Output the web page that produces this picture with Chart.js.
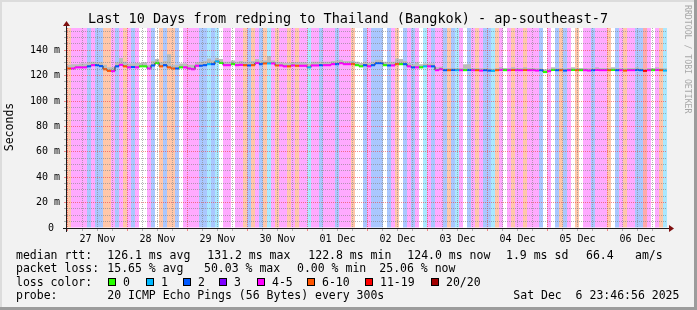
<!DOCTYPE html>
<html>
<head>
<meta charset="utf-8">
<script src="https://cdn.jsdelivr.net/npm/chart.js@4.4.1/dist/chart.umd.min.js"></script>
<style>
html, body { margin: 0; padding: 0; background: #f2f2f2; }
</style>
</head>
<body>
<canvas id="chart" width="697" height="310"></canvas>
<script>
"use strict";

// median rtt [ms], one value per 1.6 h (150 bins = last 10 days)
const medianRtt = [
    125.6, 125.6, 126.5, 126.5, 126.5, 127.3, 128.2, 128.2, 127.5, 125.0,
    123.8, 123.5, 127.3, 128.5, 127.3, 126.5, 126.8, 126.5, 127.3, 127.3,
    125.6, 128.0, 130.0, 127.3, 128.2, 126.5, 125.6, 125.6, 126.5, 126.5,
    125.6, 125.0, 127.8, 127.8, 128.2, 129.0, 129.0, 131.2, 130.0, 128.2,
    128.2, 129.0, 128.2, 128.5, 128.2, 128.0, 128.2, 130.0, 129.0, 129.6,
    129.6, 129.6, 128.0, 128.0, 127.3, 127.3, 128.0, 127.8, 127.8, 127.8,
    126.5, 128.0, 128.0, 128.2, 128.2, 128.2, 129.0, 129.0, 129.8, 129.0,
    129.0, 129.0, 128.2, 127.3, 128.2, 127.3, 128.2, 129.8, 129.8, 128.2,
    128.0, 128.0, 129.0, 129.0, 129.0, 127.3, 126.5, 126.5, 126.5, 127.3,
    127.3, 127.3, 124.3, 125.0, 124.3, 124.3, 124.5, 124.3, 124.3, 124.3,
    124.5, 124.3, 124.3, 124.0, 124.3, 124.0, 123.8, 124.3, 124.5, 124.3,
    124.3, 124.5, 124.3, 124.3, 124.5, 124.3, 124.3, 124.0, 124.3, 122.8,
    123.5, 124.5, 124.3, 124.3, 124.0, 124.3, 124.5, 124.3, 124.3, 124.3,
    124.0, 124.3, 124.5, 124.3, 124.3, 124.3, 124.5, 124.3, 124.3, 124.0,
    124.3, 124.3, 124.5, 124.3, 123.8, 124.3, 124.3, 124.5, 124.3, 124.0
];

// 煙(smoke)の上端 [ms]
const smokeTop = [
    128.5, 129.0, 129.0, 129.5, 129.5, 130.5, 131.0, 130.5, 130.5, 128.5,
    126.5, 126.5, 130.5, 133.8, 131.0, 129.5, 129.5, 130.0, 130.0, 130.5,
    128.5, 131.5, 133.0, 130.5, 131.5, 136.8, 128.5, 128.5, 129.5, 129.5,
    128.5, 128.5, 130.5, 131.0, 131.5, 133.5, 132.0, 134.0, 133.0, 131.0,
    131.0, 132.0, 131.0, 131.5, 131.0, 131.0, 131.5, 133.0, 132.0, 132.0,
    135.5, 132.0, 131.0, 130.5, 130.0, 130.0, 130.5, 130.5, 130.5, 130.5,
    129.5, 131.0, 131.0, 131.0, 131.0, 131.0, 131.5, 132.0, 132.5, 131.5,
    131.5, 131.5, 131.0, 130.0, 131.0, 130.0, 131.0, 132.5, 132.5, 131.0,
    130.5, 131.0, 133.5, 133.0, 131.5, 130.0, 129.0, 130.5, 129.0, 129.5,
    129.5, 129.5, 126.5, 127.0, 126.0, 126.0, 126.0, 126.0, 126.0, 129.0,
    129.0, 126.0, 126.0, 125.8, 126.0, 125.8, 125.5, 126.0, 126.5, 126.0,
    126.0, 126.5, 126.0, 126.0, 126.5, 126.0, 126.0, 125.8, 126.0, 125.0,
    125.5, 126.5, 126.0, 126.0, 125.8, 126.0, 126.5, 126.0, 126.0, 126.0,
    125.8, 126.0, 126.5, 126.0, 126.0, 126.0, 126.5, 126.0, 126.0, 125.8,
    126.0, 126.0, 126.5, 126.0, 125.5, 126.0, 126.0, 126.5, 126.0, 125.8
];

// loss class per bin: 0="0" 1="1" 2="2" 3="3" 4="4-5" 5="6-10" 6="11-19" 7="20/20"
const lossClass = [
    5, 4, 4, 4, 4, 2, 4, 2, 2, 5,
    5, 4, 2, 4, 5, 4, 2, 4, 0, 0,
    4, 2, 0, 5, 2, 5, 5, 2, 0, 4,
    4, 4, 4, 2, 2, 1, 2, 1, 0, 4,
    4, 0, 4, 4, 5, 2, 5, 4, 2, 5,
    1, 4, 5, 4, 4, 5, 4, 5, 4, 4,
    1, 4, 4, 2, 4, 4, 4, 2, 4, 4,
    4, 5, 0, 0, 2, 4, 2, 2, 2, 0,
    2, 4, 5, 0, 2, 4, 2, 4, 0, 1,
    4, 2, 4, 4, 2, 5, 2, 1, 4, 0,
    2, 4, 5, 4, 2, 2, 1, 5, 4, 0,
    4, 5, 4, 4, 5, 4, 4, 4, 2, 0,
    4, 0, 2, 5, 2, 4, 0, 5, 0, 4,
    4, 2, 4, 4, 4, 5, 0, 2, 4, 5,
    4, 4, 2, 2, 6, 4, 0, 4, 5, 1
];

const lossLabels = ["0", "1", "2", "3", "4-5", "6-10", "11-19", "20/20"];
const lossColors = ["#26ff00", "#00b8ff", "#0059ff", "#7e00ff", "#ff00ff", "#ff5500", "#ff0000", "#a10000"];
const lossTints = ["rgba(0,0,0,0)", "#aae8ff", "#aac7ff", "#d4aaff", "#ffaaff", "#ffc7aa", "#ffaaaa", "#e1aaaa"];

const dayLabels = ["27 Nov", "28 Nov", "29 Nov", "30 Nov", "01 Dec", "02 Dec", "03 Dec", "04 Dec", "05 Dec", "06 Dec"];

const titleText = "Last 10 Days from redping to Thailand (Bangkok) - ap-southeast-7";
const rttStats = ["126.1 ms avg", "131.2 ms max", "122.8 ms min", "124.0 ms now", "1.9 ms sd", "66.4", "am/s"];
const lossStats = ["15.65 % avg", "50.03 % max", "0.00 % min", "25.06 % now"];
const probeText = "20 ICMP Echo Pings (56 Bytes) every 300s";
const stampText = "Sat Dec  6 23:46:56 2025";

// 時間軸 (時間単位, 開始 = Nov 26 23:46:56)
const HOURS = 240;
const BIN = HOURS / medianRtt.length;
const FIRST_MIDNIGHT = 13 / 60 + 4 / 3600;
const Y_MAX = 157.5;

const GRID = "rgba(130,130,130,0.6)";
const MGRID = "rgba(235,60,60,0.6)";
const FONT = '"DejaVu Sans Mono", monospace';

const xTicks = [];
dayLabels.forEach((_, d) => {
    for (let q = 0; q < 4; q++) xTicks.push(FIRST_MIDNIGHT + d * 24 + q * 6);
});
const yTicks = [];
for (let v = 0; v <= 155; v += 5) yTicks.push(v);

const binCenter = i => (i + 0.5) * BIN;
const stepData = arr => arr.map((v, i) => ({ x: i * BIN, y: v }))
    .concat([{ x: HOURS, y: arr[arr.length - 1] }]);

// 枠・タイトル・凡例
const rrdDecor = {
    id: "rrdDecor",
    beforeDraw(chart) {
        const { ctx, chartArea: a, width: W, height: H } = chart;
        ctx.save();
        ctx.fillStyle = "#f2f2f2";
        ctx.fillRect(0, 0, W, H);
        ctx.fillStyle = "#dcdcdc";
        ctx.fillRect(0, 0, W, 2);
        ctx.fillRect(0, 0, 2, H);
        ctx.fillStyle = "#9c9c9c";
        ctx.fillRect(0, H - 3, W, 3);
        ctx.fillRect(W - 3, 0, 3, H);
        ctx.fillStyle = "#ffffff";
        ctx.fillRect(a.left, a.top, a.right - a.left, a.bottom - a.top);
        ctx.restore();
    },
    afterDraw(chart) {
        const { ctx, chartArea: a } = chart;
        ctx.save();
        // axes
        ctx.strokeStyle = "#1a1a1a";
        ctx.lineWidth = 1;
        ctx.beginPath();
        ctx.moveTo(63, a.bottom + 0.5);
        ctx.lineTo(670, a.bottom + 0.5);
        ctx.moveTo(a.left - 0.5, a.bottom + 4);
        ctx.lineTo(a.left - 0.5, 24);
        ctx.stroke();
        ctx.fillStyle = "#7f1010";
        ctx.beginPath();
        ctx.moveTo(669, a.bottom - 3);
        ctx.lineTo(674, a.bottom + 0.5);
        ctx.lineTo(669, a.bottom + 4);
        ctx.closePath();
        ctx.fill();
        ctx.beginPath();
        ctx.moveTo(a.left - 4, 26);
        ctx.lineTo(a.left - 0.5, 21);
        ctx.lineTo(a.left + 3, 26);
        ctx.closePath();
        ctx.fill();

        // title
        ctx.fillStyle = "#000";
        ctx.textBaseline = "alphabetic";
        ctx.textAlign = "center";
        ctx.font = "13.5px " + FONT;
        ctx.fillText(titleText, 348, 23);

        // y title
        ctx.font = "11.5px " + FONT;
        ctx.save();
        ctx.translate(13, 127);
        ctx.rotate(-Math.PI / 2);
        ctx.fillText("Seconds", 0, 0);
        ctx.restore();

        // watermark
        ctx.save();
        ctx.fillStyle = "#a8a8a8";
        ctx.font = "8.2px " + FONT;
        ctx.textAlign = "left";
        ctx.textBaseline = "middle";
        ctx.translate(687, 5);
        ctx.rotate(Math.PI / 2);
        ctx.fillText("RRDTOOL / TOBI OETIKER", 0, 0);
        ctx.restore();

        // legend
        ctx.textAlign = "left";
        ctx.font = "11.5px " + FONT;
        const rows = [258.5, 272, 285.5, 299];
        ctx.fillText("median rtt:", 16, rows[0]);
        [107.3, 207.3, 308.3, 407.3, 506, 586, 635].forEach((x, i) => ctx.fillText(rttStats[i], x, rows[0]));
        ctx.fillText("packet loss:", 16, rows[1]);
        [107.3, 204, 297, 379.3].forEach((x, i) => ctx.fillText(lossStats[i], x, rows[1]));
        ctx.fillText("loss color:", 16, rows[2]);
        [108, 146, 183, 219, 257, 307, 365, 431].forEach((x, i) => {
            ctx.fillStyle = lossColors[i];
            ctx.fillRect(x, 278, 8, 8);
            ctx.strokeStyle = "#000";
            ctx.strokeRect(x + 0.5, 278.5, 7, 7);
            ctx.fillStyle = "#000";
            ctx.fillText(lossLabels[i], x + 15, rows[2]);
        });
        ctx.fillText("probe:", 16, rows[3]);
        ctx.fillText(probeText, 107.3, rows[3]);
        ctx.fillText(stampText, 513.3, rows[3]);
        ctx.restore();
    }
};

const ctx = document.getElementById("chart");
new Chart(ctx, {
    type: "line",
    data: {
        datasets: [
            {
                // loss background stripes
                type: "bar",
                data: lossClass.map((c, i) => ({ x: binCenter(i), y: [0, Y_MAX] })),
                backgroundColor: lossClass.map(c => lossTints[c]),
                borderWidth: 0,
                inflateAmount: 0,
                grouped: false,
                barPercentage: 1,
                categoryPercentage: 1,
                order: 4
            },
            {
                // smoke
                type: "line",
                data: stepData(smokeTop),
                stepped: true,
                borderColor: "rgba(0,0,0,0)",
                borderWidth: 0,
                backgroundColor: "#bcbcbc",
                fill: "+1",
                pointRadius: 0,
                order: 3
            },
            {
                // median
                type: "line",
                data: stepData(medianRtt),
                stepped: true,
                borderColor: "#202020",
                borderWidth: 1,
                fill: false,
                pointRadius: 0,
                order: 2
            },
            {
                // loss colored median band
                type: "bar",
                data: medianRtt.map((m, i) => ({ x: binCenter(i), y: [m - 0.8, m + 0.8] })),
                backgroundColor: lossClass.map(c => lossColors[c]),
                borderWidth: 0,
                inflateAmount: 0,
                grouped: false,
                barPercentage: 1,
                categoryPercentage: 1,
                order: 1
            }
        ]
    },
    options: {
        responsive: false,
        animation: false,
        devicePixelRatio: 1,
        events: [],
        layout: { padding: { left: 0, right: 30, top: 28, bottom: 0 } },
        plugins: {
            legend: { display: false },
            tooltip: { enabled: false },
            title: { display: false }
        },
        scales: {
            x: {
                type: "linear",
                min: 0,
                max: HOURS,
                offset: false,
                afterBuildTicks: s => { s.ticks = xTicks.map(v => ({ value: v })); },
                afterFit: s => { s.height = 82; },
                ticks: {
                    autoSkip: false,
                    maxRotation: 0,
                    padding: 2,
                    color: "#000",
                    font: { family: FONT, size: 10 },
                    callback: (v, i) => (i % 4 === 2 ? dayLabels[Math.floor(i / 4)] : "")
                },
                grid: {
                    z: 1,
                    offset: false,
                    tickLength: 3,
                    color: c => (c.index % 4 === 0 ? MGRID : GRID)
                },
                border: { display: false, dash: [1, 1] }
            },
            y: {
                type: "linear",
                min: 0,
                max: Y_MAX,
                afterBuildTicks: s => { s.ticks = yTicks.map(v => ({ value: v })); },
                afterFit: s => { s.width = 67; },
                ticks: {
                    autoSkip: false,
                    padding: 4,
                    color: "#000",
                    font: { family: FONT, size: 10 },
                    callback: v => {
                        const r = Math.round(v);
                        if (r % 20 !== 0) return "";
                        return r === 0 ? "0 " : r + " m";
                    }
                },
                grid: {
                    z: 1,
                    tickLength: 3,
                    color: c => (Math.round(c.tick.value) % 20 === 0 ? MGRID : GRID)
                },
                border: { display: false, dash: [1, 1] }
            }
        }
    },
    plugins: [rrdDecor]
});
</script>
</body>
</html>
